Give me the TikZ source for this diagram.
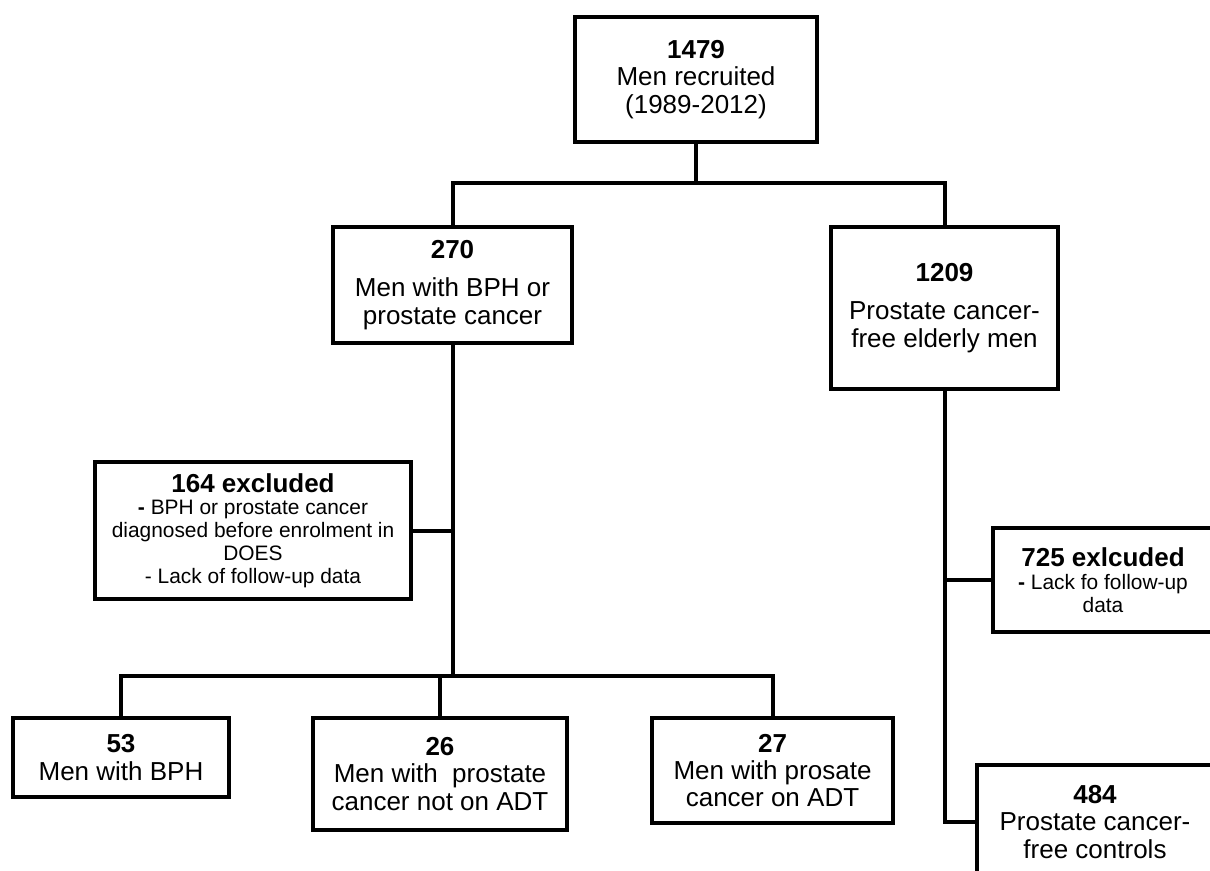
\documentclass[tikz,border=0pt]{standalone}
\usepackage{fontspec}
\setmainfont{Liberation Sans}
\usetikzlibrary{positioning}
\tikzset{
  box/.style={draw,rectangle,align=center,inner sep=2pt,font=\fontsize{14.8}{15.6}\selectfont},
  note/.style={box,font=\fontsize{11.9}{13}\selectfont}}
\newcommand{\notehead}[1]{{\fontsize{14.8}{15.6}\selectfont\bfseries #1}}

\begin{document}
\begin{tikzpicture}[x=0.02cm,y=-0.02cm,line width=0.08cm]
\useasboundingbox (0,0) rectangle (1210,871);\clip (0,0) rectangle (1210,871);

\node[box,minimum width=4.84cm,minimum height=2.5cm] (top) at (696,79.5) {\textbf{1479}\\Men recruited\\(1989-2012)};
\node[box,minimum width=4.78cm,minimum height=2.32cm] (b270) at (452.5,285) {\textbf{270}\\[6pt]Men with BPH or\\prostate cancer};
\node[box,minimum width=4.54cm,minimum height=3.24cm] (b1209) at (944.5,308) {\textbf{1209}\\[6pt]Prostate cancer-\\free elderly men};
\node[note,minimum width=6.32cm,minimum height=2.74cm] (excl) at (253,530.5) {\notehead{164 excluded}\\{\large\bfseries -} BPH or prostate cancer\\diagnosed before enrolment in\\DOES\\- Lack of follow-up data};
\node[note,minimum width=4.40cm,minimum height=2.08cm] (b725) at (1103,580) {\notehead{725 exlcuded}\\{\large\bfseries -} Lack fo follow-up\\data};
\node[box,minimum width=4.32cm,minimum height=1.58cm] (b53) at (121,757.5) {\textbf{53}\\Men with BPH};
\node[box,minimum width=5.08cm,minimum height=2.24cm] (b26) at (440,774) {\textbf{26}\\Men with\ \ prostate\\cancer not on ADT};
\node[box,minimum width=4.82cm,minimum height=2.10cm] (b27) at (772.5,770.5) {\textbf{27}\\Men with prosate\\cancer on ADT};
\node[box,minimum width=4.72cm,minimum height=2.30cm] (b484) at (1095,822) {\textbf{484}\\Prostate cancer-\\free controls};

\coordinate (s1) at (696,183);\coordinate (s2) at (452.5,676);
\draw (top) -- (s1);\draw (b270.north) |- (s1) -| (b1209.north);
\draw (b270.south) -- (s2);\draw (excl.east) -- (excl.east -| s2);
\draw (b53.north) |- (s2) -| (b27.north);\draw (b26.north) -- (b26.north |- s2);
\draw (b1209.south) |- (b484.west);\draw (b725.west) -- (b725.west -| b1209.south);
\end{tikzpicture}
\end{document}
